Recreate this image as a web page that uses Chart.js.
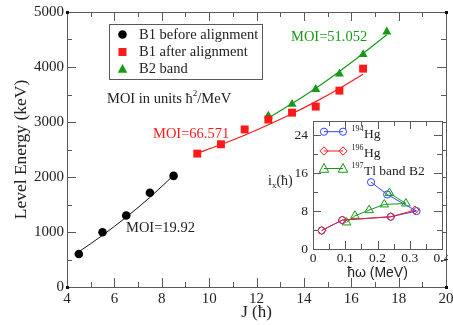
<!DOCTYPE html>
<html>
<head>
<meta charset="utf-8">
<script src="https://cdn.jsdelivr.net/npm/chart.js@4"></script>
<style>
html, body { margin: 0; padding: 0; background: #fff; }
#wrap { position: relative; width: 453px; height: 325px; }
#mainChart { position: absolute; left: 0; top: 0; }
#insetChart { position: absolute; left: 262px; top: 112px; }
</style>
</head>
<body>
<div id="wrap">
  <canvas id="mainChart" width="453" height="325"></canvas>
  <canvas id="insetChart" width="186" height="172"></canvas>
</div>
<script>
// main panel: level energy vs spin
const jBefore = [4.5, 5.5, 6.5, 7.5, 8.5];
const eBefore = [600, 995, 1300, 1715, 2020];
const fitBefore = [640, 940, 1270, 1630, 2030];

const jAfter = [9.5, 10.5, 11.5, 12.5, 13.5, 14.5, 15.5, 16.5];
const eAfter = [2425, 2595, 2865, 3045, 3170, 3280, 3570, 3970];
const fitAfter = [2430, 2590, 2760, 2950, 3150, 3370, 3610, 3870];

const jB2 = [12.5, 13.5, 14.5, 15.5, 16.5, 17.5];
const eB2 = [3110, 3325, 3595, 3875, 4230, 4640];
const fitB2 = [3070, 3335, 3615, 3920, 4245, 4585];

const legendLabels = ['B1 before alignment', 'B1 after alignment', 'B2 band'];

// inset: aligned angular momentum vs rotational frequency
const hg194W = [0.027, 0.091, 0.241, 0.321, 0.230, 0.180];
const hg194I = [3.9, 6.1, 6.8, 8.0, 11.5, 14.1];
const hg196W = [0.027, 0.091, 0.241, 0.316];
const hg196I = [3.9, 6.1, 6.8, 8.2];
const tl197W = [0.104, 0.130, 0.174, 0.221, 0.288, 0.237];
const tl197I = [5.6, 7.0, 8.2, 9.4, 9.6, 11.8];

const RED = '#ff1a1a';
const GREEN = '#149a14';
const BLUE = '#3344ff';
const FRAME = '#5a5a5a';
const TXT = '#222';
const SERIF = '"Liberation Serif", "DejaVu Serif", serif';
const SANS = '"Liberation Sans", Arial, sans-serif';

function pts(xs, ys) {
  return xs.map((x, i) => ({ x: x, y: ys[i] }));
}

// inward ticks on all four sides plus the box, xmgrace style
function frameTicks(opts) {
  return {
    id: 'frameTicks',
    beforeDatasetsDraw(chart) {
      const { ctx, chartArea: a, scales: { x, y } } = chart;
      ctx.save();
      if (opts.fill) {
        ctx.fillStyle = '#fff';
        ctx.fillRect(a.left, a.top, a.right - a.left, a.bottom - a.top);
      }
      ctx.strokeStyle = FRAME;
      ctx.lineWidth = 1;
      ctx.beginPath();
      const nx = Math.round((x.max - x.min) / opts.xMinor);
      for (let i = 0; i <= nx; i++) {
        const v = x.min + i * opts.xMinor;
        const len = (i % opts.xEvery === 0) ? opts.major : opts.minor;
        const px = Math.round(x.getPixelForValue(v)) + 0.5;
        ctx.moveTo(px, a.bottom); ctx.lineTo(px, a.bottom - len);
        ctx.moveTo(px, a.top); ctx.lineTo(px, a.top + len);
      }
      const ny = Math.floor((y.max - y.min) / opts.yMinor + 1e-6);
      for (let i = 0; i <= ny; i++) {
        const v = y.min + i * opts.yMinor;
        const len = (i % opts.yEvery === 0) ? opts.major : opts.minor;
        const py = Math.round(y.getPixelForValue(v)) + 0.5;
        ctx.moveTo(a.left, py); ctx.lineTo(a.left + len, py);
        ctx.moveTo(a.right, py); ctx.lineTo(a.right - len, py);
      }
      ctx.stroke();
      ctx.strokeRect(Math.round(a.left) + 0.5, Math.round(a.top) + 0.5,
        Math.round(a.right - a.left), Math.round(a.bottom - a.top));
      if (opts.corners) {
        ctx.fillStyle = '#111';
        [[a.left, a.top], [a.right, a.top], [a.left, a.bottom], [a.right, a.bottom]].forEach((c) => {
          ctx.fillRect(Math.round(c[0]) - 1, Math.round(c[1]) - 1, 3, 3);
        });
      }
      ctx.restore();
    }
  };
}

function marker(ctx, shape, x, y, r, color, hollow) {
  ctx.beginPath();
  if (shape === 'circle') {
    ctx.arc(x, y, r, 0, Math.PI * 2);
  } else if (shape === 'rect') {
    ctx.rect(x - r, y - r, 2 * r, 2 * r);
  } else if (shape === 'triangle') {
    ctx.moveTo(x, y - r);
    ctx.lineTo(x + r * 0.95, y + r * 0.75);
    ctx.lineTo(x - r * 0.95, y + r * 0.75);
    ctx.closePath();
  } else if (shape === 'diamond') {
    ctx.moveTo(x, y - r); ctx.lineTo(x + r, y); ctx.lineTo(x, y + r); ctx.lineTo(x - r, y);
    ctx.closePath();
  }
  if (hollow) {
    ctx.strokeStyle = color; ctx.lineWidth = 1; ctx.stroke();
  } else {
    ctx.fillStyle = color; ctx.fill();
  }
}

const mainNotes = {
  id: 'mainNotes',
  afterDatasetsDraw(chart) {
    const ctx = chart.ctx;
    ctx.save();
    // legend box
    ctx.strokeStyle = FRAME;
    ctx.lineWidth = 1;
    ctx.strokeRect(109.5, 24.5, 153, 55);
    const rows = [34.5, 52, 69];
    const shapes = [['circle', 4.3, '#000'], ['rect', 4, RED], ['triangle', 5, GREEN]];
    ctx.font = '14.5px ' + SERIF;
    ctx.textBaseline = 'middle';
    ctx.textAlign = 'left';
    rows.forEach((ry, i) => {
      marker(ctx, shapes[i][0], 122.5, ry, shapes[i][1], shapes[i][2], false);
      ctx.fillStyle = TXT;
      ctx.fillText(legendLabels[i], 139, ry + 0.5);
    });

    // MOI unit note with superscript
    ctx.fillStyle = TXT;
    let tx = 107;
    const part1 = 'MOI in units ħ';
    ctx.fillText(part1, tx, 99);
    tx += ctx.measureText(part1).width;
    ctx.font = '9px ' + SERIF;
    ctx.fillText('2', tx, 94);
    tx += ctx.measureText('2').width;
    ctx.font = '14.5px ' + SERIF;
    ctx.fillText('/MeV', tx, 99);

    ctx.fillStyle = RED;
    ctx.fillText('MOI=66.571', 153, 134);
    ctx.fillStyle = GREEN;
    ctx.fillText('MOI=51.052', 291, 37.5);
    ctx.fillStyle = TXT;
    ctx.fillText('MOI=19.92', 126, 228.5);
    ctx.restore();
  }
};

const mainChart = new Chart(document.getElementById('mainChart'), {
  type: 'scatter',
  data: {
    datasets: [
      { label: legendLabels[0], data: pts(jBefore, eBefore), pointStyle: 'circle', pointRadius: 4.3,
        backgroundColor: '#000', borderWidth: 0, showLine: false },
      { label: legendLabels[1], data: pts(jAfter, eAfter), pointStyle: 'rect', pointRadius: 5.6,
        backgroundColor: RED, borderWidth: 0, showLine: false },
      { label: legendLabels[2], data: pts(jB2, eB2), pointStyle: 'triangle', pointRadius: 5.2,
        backgroundColor: GREEN, borderWidth: 0, showLine: false },
      { label: 'fit before', data: pts(jBefore, fitBefore), showLine: true, pointRadius: 0,
        borderColor: '#111', borderWidth: 1, cubicInterpolationMode: 'monotone' },
      { label: 'fit after', data: pts(jAfter, fitAfter), showLine: true, pointRadius: 0,
        borderColor: RED, borderWidth: 1.2, cubicInterpolationMode: 'monotone' },
      { label: 'fit B2', data: pts(jB2, fitB2), showLine: true, pointRadius: 0,
        borderColor: GREEN, borderWidth: 1.2, cubicInterpolationMode: 'monotone' }
    ]
  },
  options: {
    responsive: false,
    devicePixelRatio: 1,
    animation: false,
    layout: { padding: { top: 12, right: 7, left: 0, bottom: 0 } },
    plugins: { legend: { display: false }, tooltip: { enabled: false } },
    scales: {
      x: {
        type: 'linear', min: 4, max: 20,
        ticks: { stepSize: 2, color: TXT, font: { family: SERIF, size: 15 }, padding: 3, maxRotation: 0,
          callback: (v) => String(v) },
        grid: { display: false, drawTicks: false },
        border: { display: false },
        title: { display: true, text: 'J (ħ)', color: TXT, font: { family: SERIF, size: 17 },
          padding: { top: 0, bottom: 2 } },
        afterFit(s) { s.height = 38; s.paddingLeft = 0; s.paddingRight = 0; }
      },
      y: {
        type: 'linear', min: 0, max: 5000,
        ticks: { stepSize: 1000, color: TXT, font: { family: SERIF, size: 15 }, padding: 3,
          callback: (v) => String(v) },
        grid: { display: false, drawTicks: false },
        border: { display: false },
        title: { display: true, text: 'Level Energy (keV)', color: TXT, font: { family: SERIF, size: 17.5 },
          padding: { top: 11, bottom: 0 } },
        afterFit(s) { s.width = 67; s.paddingTop = 0; s.paddingBottom = 0; }
      }
    }
  },
  plugins: [frameTicks({ xMinor: 1, xEvery: 2, yMinor: 500, yEvery: 2, major: 9, minor: 5, corners: true }), mainNotes]
});

const insetNotes = {
  id: 'insetNotes',
  afterDatasetsDraw(chart) {
    const ctx = chart.ctx;
    ctx.save();
    ctx.textBaseline = 'middle';
    ctx.textAlign = 'left';
    // y title, horizontal with subscript
    ctx.fillStyle = TXT;
    ctx.font = '14px ' + SERIF;
    let tx = 6;
    ctx.fillText('i', tx, 69);
    tx += ctx.measureText('i').width;
    ctx.font = '9px ' + SERIF;
    ctx.fillText('x', tx, 74);
    tx += ctx.measureText('x').width;
    ctx.font = '14px ' + SERIF;
    ctx.fillText('(ħ)', tx, 69);

    // legend
    const rows = [
      { y: 19.7, color: BLUE, shape: 'circle', r: 3.6, sup: '194', txt: 'Hg' },
      { y: 39, color: RED, shape: 'diamond', r: 4.2, sup: '196', txt: 'Hg' },
      { y: 56.5, color: GREEN, shape: 'triangle', r: 5, sup: '197', txt: 'Tl band B2' }
    ];
    rows.forEach((r) => {
      ctx.strokeStyle = r.color;
      ctx.lineWidth = 1;
      ctx.beginPath();
      ctx.moveTo(62, r.y); ctx.lineTo(81, r.y);
      ctx.stroke();
      marker(ctx, r.shape, 62, r.y, r.r, r.color, true);
      marker(ctx, r.shape, 81, r.y, r.r, r.color, true);
      ctx.fillStyle = TXT;
      ctx.font = '8px ' + SERIF;
      ctx.fillText(r.sup, 89.5, r.y - 3);
      const w = ctx.measureText(r.sup).width;
      ctx.font = '13.5px ' + SERIF;
      ctx.fillText(r.txt, 89.5 + w + 0.5, r.y + 2.5);
    });
    ctx.restore();
  }
};

const insetChart = new Chart(document.getElementById('insetChart'), {
  type: 'scatter',
  data: {
    datasets: [
      { label: '196Hg', data: pts(hg196W, hg196I), showLine: true, borderColor: RED, borderWidth: 1,
        pointStyle: 'rectRot', pointRadius: 4.2, pointBorderColor: RED, pointBackgroundColor: 'rgba(0,0,0,0)',
        pointBorderWidth: 1 },
      { label: '197Tl band B2', data: pts(tl197W, tl197I), showLine: true, borderColor: GREEN, borderWidth: 1,
        pointStyle: 'triangle', pointRadius: 5, pointBorderColor: GREEN, pointBackgroundColor: 'rgba(0,0,0,0)',
        pointBorderWidth: 1 },
      { label: '194Hg', data: pts(hg194W, hg194I), showLine: true, borderColor: BLUE, borderWidth: 1,
        pointStyle: 'circle', pointRadius: 3.6, pointBorderColor: BLUE, pointBackgroundColor: 'rgba(0,0,0,0)',
        pointBorderWidth: 1 }
    ]
  },
  options: {
    responsive: false,
    devicePixelRatio: 1,
    animation: false,
    layout: { padding: { top: 9, right: 6, left: 0, bottom: 0 } },
    plugins: { legend: { display: false }, tooltip: { enabled: false } },
    scales: {
      x: {
        type: 'linear', min: 0, max: 0.4,
        ticks: { stepSize: 0.1, color: TXT, font: { family: SERIF, size: 13.5 }, padding: 1, maxRotation: 0 },
        grid: { display: false, drawTicks: false },
        border: { display: false },
        title: { display: true, text: 'ħω (MeV)', color: TXT, font: { family: SANS, size: 14 },
          padding: { top: 0, bottom: 2 } },
        afterFit(s) { s.height = 35; s.paddingLeft = 0; s.paddingRight = 0; }
      },
      y: {
        type: 'linear', min: 0, max: 27,
        ticks: { stepSize: 8, includeBounds: false, color: TXT, font: { family: SERIF, size: 13.5 }, padding: 5 },
        grid: { display: false, drawTicks: false },
        border: { display: false },
        afterFit(s) { s.width = 51; s.paddingTop = 0; s.paddingBottom = 0; }
      }
    }
  },
  plugins: [frameTicks({ xMinor: 0.05, xEvery: 2, yMinor: 4, yEvery: 2, major: 8, minor: 5, fill: true }), insetNotes]
});
</script>
</body>
</html>
